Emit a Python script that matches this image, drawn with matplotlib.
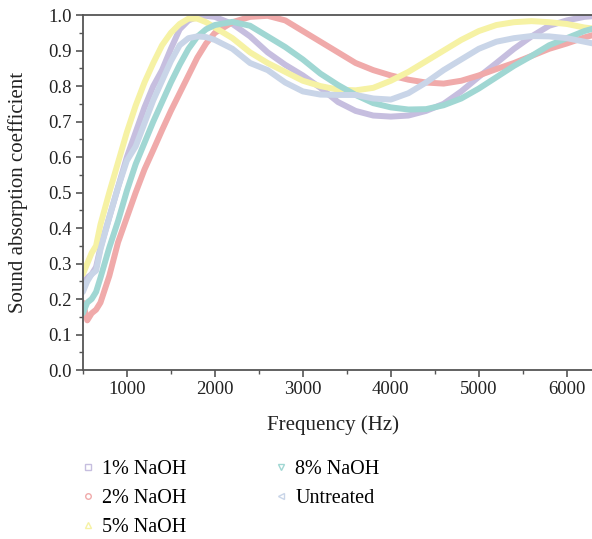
import matplotlib
matplotlib.use("Agg")
import matplotlib.pyplot as plt
from matplotlib.ticker import MultipleLocator
from matplotlib.lines import Line2D

plt.rcParams['font.family'] = ['Liberation Serif', 'DejaVu Serif']

# частоты (Гц), общие для всех серий
freq = [500, 550, 600, 650, 700, 800, 900, 1000, 1100, 1200, 1300, 1400, 1500,
        1600, 1700, 1800, 1900, 2000, 2200, 2400, 2600, 2800, 3000, 3200, 3400,
        3600, 3800, 4000, 4200, 4400, 4600, 4800, 5000, 5200, 5400, 5600, 5800,
        6000, 6200, 6300]

naoh1 = [0.24, 0.26, 0.27, 0.29, 0.345, 0.43, 0.515, 0.60, 0.67, 0.74, 0.80, 0.845, 0.905,
         0.96, 0.985, 0.995, 0.998, 0.995, 0.975, 0.94, 0.895, 0.86, 0.83, 0.795, 0.755,
         0.73, 0.717, 0.714, 0.717, 0.73, 0.75, 0.785, 0.826, 0.865, 0.905, 0.94, 0.97,
         0.985, 0.995, 0.997]
naoh2 = [0.19, 0.14, 0.16, 0.17, 0.19, 0.265, 0.36, 0.43, 0.50, 0.565, 0.62, 0.676, 0.73,
         0.78, 0.83, 0.88, 0.92, 0.95, 0.98, 0.995, 0.998, 0.985, 0.955, 0.925, 0.895,
         0.865, 0.845, 0.83, 0.818, 0.81, 0.807, 0.815, 0.83, 0.848, 0.865, 0.885, 0.905,
         0.92, 0.937, 0.944]
naoh5 = [0.27, 0.30, 0.33, 0.35, 0.41, 0.50, 0.585, 0.67, 0.745, 0.81, 0.865, 0.915, 0.95,
         0.975, 0.99, 0.99, 0.98, 0.965, 0.935, 0.895, 0.865, 0.84, 0.815, 0.80, 0.79,
         0.788, 0.795, 0.815, 0.84, 0.87, 0.90, 0.93, 0.955, 0.972, 0.98, 0.983, 0.98,
         0.975, 0.965, 0.962]
naoh8 = [0.16, 0.19, 0.20, 0.22, 0.26, 0.345, 0.42, 0.505, 0.58, 0.64, 0.70, 0.755, 0.81,
         0.86, 0.905, 0.939, 0.96, 0.972, 0.981, 0.97, 0.94, 0.91, 0.875, 0.835, 0.803,
         0.775, 0.752, 0.74, 0.734, 0.735, 0.746, 0.765, 0.793, 0.825, 0.857, 0.885, 0.915,
         0.935, 0.955, 0.962]
untreated = [0.22, 0.25, 0.27, 0.28, 0.34, 0.43, 0.515, 0.59, 0.63, 0.695, 0.76, 0.815, 0.87,
             0.915, 0.935, 0.94, 0.938, 0.93, 0.905, 0.865, 0.845, 0.81, 0.785, 0.776, 0.775,
             0.775, 0.765, 0.762, 0.78, 0.81, 0.845, 0.875, 0.905, 0.925, 0.935, 0.941, 0.94,
             0.935, 0.925, 0.92]

labels = ["1% NaOH", "2% NaOH", "5% NaOH", "8% NaOH", "Untreated"]
series = [naoh1, naoh2, naoh5, naoh8, untreated]
colors = ["#c6bedf", "#f0aaaa", "#f6f2a4", "#a0d7d3", "#c9d5e8"]
markers = ["s", "o", "^", "v", "<"]

fig = plt.figure(figsize=(5.92, 5.39), dpi=100)
ax = fig.add_axes([0.140, 0.3135, 0.862, 0.6585])

for y, c in zip(series, colors):
    ax.plot(freq, y, color=c, lw=4.3, solid_capstyle="round", solid_joinstyle="round")

ax.set_xlim(500, 6300)
ax.set_ylim(0, 1.0)
ax.xaxis.set_major_locator(MultipleLocator(1000))
ax.xaxis.set_minor_locator(MultipleLocator(500))
ax.yaxis.set_major_locator(MultipleLocator(0.1))
ax.yaxis.set_minor_locator(MultipleLocator(0.05))
ax.yaxis.set_major_formatter(plt.FuncFormatter(lambda v, p: "%.1f" % v))

for s in ["left", "bottom", "top"]:
    ax.spines[s].set_color("#555555")
    ax.spines[s].set_linewidth(1.3)
ax.spines["right"].set_visible(False)
ax.tick_params(which="major", direction="out", length=5, width=1.2, color="#555555",
               labelsize=13.5, labelcolor="#222222", pad=3)
ax.tick_params(which="minor", direction="out", length=3, width=1.0, color="#555555")
ax.tick_params(top=False, right=False)

ax.set_xlabel("Frequency (Hz)", fontsize=15, color="#222222")
ax.set_ylabel("Sound absorption coefficient", fontsize=15, color="#222222")
ax.xaxis.set_label_coords(0.49, -0.128)
ax.yaxis.set_label_coords(-0.108, 0.5)

# легенда: только маркеры
handles = [Line2D([], [], ls="none", marker=m, markersize=4, markerfacecolor="none",
                  markeredgecolor=c, markeredgewidth=1.0) for m, c in zip(markers, colors)]
fig.legend(handles, labels, ncol=2, frameon=False, loc="upper left",
           bbox_to_anchor=(0.108, 0.181), fontsize=14.5, handlelength=0.6,
           handletextpad=0.4, columnspacing=4.4, labelspacing=0.5)

fig.savefig("out.png", dpi=100)
